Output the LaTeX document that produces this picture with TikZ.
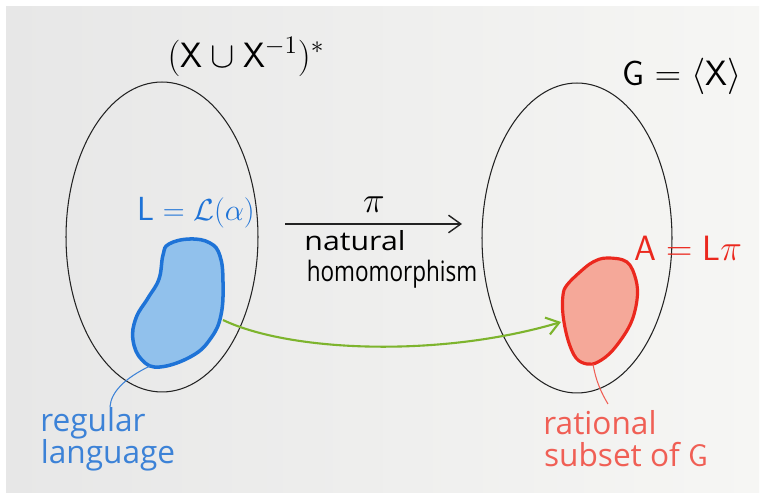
\documentclass[tikz,border=0pt]{standalone}
\usepackage{fontspec}
\setmainfont{Open Sans}
\usetikzlibrary{shapes.geometric,arrows.meta}
\definecolor{paperL}{RGB}{231,231,231}
\definecolor{paperR}{RGB}{246,246,244}
\definecolor{ink}{RGB}{35,35,35}
\definecolor{blueink}{RGB}{30,115,215}
\definecolor{bluefill}{RGB}{145,193,236}
\definecolor{bluetext}{RGB}{60,130,215}
\definecolor{redink}{RGB}{235,40,30}
\definecolor{redfill}{RGB}{245,168,153}
\definecolor{redtext}{RGB}{240,95,85}
\definecolor{greenink}{RGB}{125,180,45}
\tikzset{
  setoval/.style={ellipse, draw=ink, line width=0.6pt, inner sep=0pt},
  blobblue/.style={draw=blueink, fill=bluefill, line width=2pt},
  blobred/.style={draw=redink, fill=redfill, line width=1.8pt},
  hand/.style={inner sep=0pt, anchor=center},
  maparrow/.style={draw=ink, line width=0.8pt, -{Straight Barb[length=7pt,width=10pt]}},
  imgarrow/.style={draw=greenink, line width=1.2pt, -{Straight Barb[length=7pt,width=10pt]}},
  pointer/.style={line width=0.6pt}
}
\begin{document}
\begin{tikzpicture}[x=0.02cm,y=-0.02cm]
\useasboundingbox (0,0) rectangle (765,496);
\fill[white] (0,0) rectangle (765,496);
\shade[left color=paperL, right color=paperR] (6,7) rectangle (759,493);

% sets
\node[setoval, minimum width=3.84cm, minimum height=6.2cm] (free) at (162,237) {};
\node[setoval, minimum width=3.8cm, minimum height=6.2cm] (grp) at (577,238) {};

% set labels
\node[hand, font=\fontsize{20}{22}\selectfont] (freelab) at (246,57) {$(\mathsf{X}\cup\mathsf{X}^{-1})^{*}$};
\node[hand, font=\fontsize{20}{22}\selectfont] (grplab) at (682,76) {$\mathsf{G}=\langle\mathsf{X}\rangle$};

% blue blob (regular language)
\path[blobblue] plot[smooth cycle, tension=0.7] coordinates {
 (163,255) (169,244) (190,239) (210,243) (220,256) (223,282) (221,315)
 (211,338) (192,356) (160,367) (142,360) (133,340) (136,318) (148,298) (159,279)};
\coordinate (blueR) at (223,320);
\coordinate (blueB) at (150,366);
\node[hand, text=blueink, font=\fontsize{19}{22}\selectfont] (Llab) at (196,213) {$\mathsf{L}=\mathcal{L}(\alpha)$};

% red blob (rational subset)
\path[blobred] plot[smooth cycle, tension=0.6] coordinates {
 (607,258) (627,262) (636,280) (637,300) (630,325) (613,350) (598,362) (587,364)
 (576,358) (568,340) (563,315) (563,295) (567,285) (580,272) (593,262)};
\coordinate (redL) at (561,322);
\coordinate (redB) at (593,364);
\node[hand, text=redink, font=\fontsize{20}{22}\selectfont] (Alab) at (688,248) {$\mathsf{A}=\mathsf{L}\pi$};

% natural homomorphism arrow
\coordinate (pistart) at (285,224);
\coordinate (piend) at (462,224);
\draw[maparrow] (pistart) -- (piend);
\node[hand, font=\fontsize{20}{22}\selectfont] (pilab) at (374,205) {$\pi$};
\node[hand, font=\fontsize{15}{18}\selectfont] (nat) at (355,241) {\scalebox{1.15}[1]{natural}};
\node[hand, font=\fontsize{16}{18}\selectfont] (hom) at (392,274) {\scalebox{0.8}[1]{homomorphism}};

% image arrow
\draw[imgarrow] (blueR) .. controls (290,352) and (440,358) .. (redL);

% pointers and captions
\node[hand, text=bluetext, font=\fontsize{18}{20}\selectfont] (reg) at (93,423) {regular};
\node[hand, text=bluetext, font=\fontsize{18}{20}\selectfont] (lang) at (108,455) {language};
\draw[pointer, draw=bluetext] (blueB) .. controls (125,378) and (111,392) .. (reg.north -| 110,0);

\node[hand, text=redtext, font=\fontsize{18}{20}\selectfont] (rat) at (600,423) {rational};
\node[hand, text=redtext, font=\fontsize{18}{20}\selectfont] (sub) at (626,455) {subset of $\mathsf{G}$};
\draw[pointer, draw=redtext] (redB) .. controls (596,382) and (602,394) .. (608,404);
\end{tikzpicture}
\end{document}
